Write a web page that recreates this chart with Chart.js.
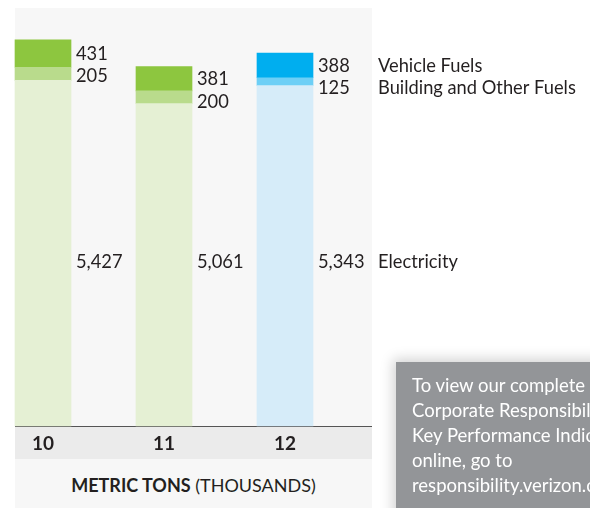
<!DOCTYPE html>
<html lang="en">
<head>
<meta charset="UTF-8">
<title>Metric tons</title>
<script src="https://cdn.jsdelivr.net/npm/chart.js"></script>
<style>
  body { margin: 0; width: 590px; height: 508px; position: relative; overflow: hidden; background: #fff; font-family: Lato, sans-serif; }
  #panel { position: absolute; left: 15px; top: 8px; width: 357px; height: 500px; background: #f7f7f7; }
  #band { position: absolute; left: 15px; top: 426px; width: 357px; height: 33px; background: #ebebeb; border-top: 1.5px solid #555; box-sizing: border-box; }
  #unit { position: absolute; left: 15px; top: 474px; width: 357px; text-align: center; font-size: 18px; color: #231f20; }
  #chart { position: absolute; left: 0; top: 0; }
  #note { position: absolute; left: 396px; top: 362px; width: 220px; height: 160px; background: #939598; color: #fff;
          font-size: 18.5px; line-height: 25px; padding: 11px 0 0 16px; white-space: nowrap; box-sizing: border-box;
          box-shadow: 0 0 12px 3px rgba(0,0,0,0.18); }
</style>
</head>
<body>
<div id="panel"></div>
<div id="band"></div>
<div id="unit"><b>METRIC TONS</b> (THOUSANDS)</div>
<canvas id="chart" width="590" height="508"></canvas>
<div id="note">To view our complete<br>Corporate Responsibility<br>Key Performance Indicators<br>online, go to<br>responsibility.verizon.com</div>

<script>
    // данные
    const years = ['10', '11', '12'];
    const electricity = [5427, 5061, 5343];
    const building = [205, 200, 125];
    const vehicle = [431, 381, 388];
    const seriesNames = ['Electricity', 'Building and Other Fuels', 'Vehicle Fuels'];

    const greens = ['#e5f0d4', '#b9db8c', '#8dc63f'];
    const blues = ['#d6ecf9', '#6dcff6', '#00aeef'];
    const colorsFor = (k) => years.map((_, i) => i === years.length - 1 ? blues[k] : greens[k]);

    const fmt = v => v.toLocaleString('en-US');

    // подписи значений и названия рядов
    const labelPlugin = {
        id: 'valueLabels',
        afterDatasetsDraw(chart) {
            const ctx = chart.ctx;
            const yScale = chart.scales.y;
            const bMeta = chart.getDatasetMeta(1);
            const vMeta = chart.getDatasetMeta(2);
            ctx.save();
            ctx.font = '18.3px Lato';
            ctx.fillStyle = '#231f20';
            ctx.textBaseline = 'middle';
            ctx.textAlign = 'left';
            years.forEach((_, i) => {
                const v = vMeta.data[i], b = bMeta.data[i];
                const x = v.x + v.width / 2 + 5;
                const vy = (v.y + v.base) / 2 + 0.5;
                const by = Math.max((b.y + b.base) / 2, vy + 22.5);
                const ey = yScale.getPixelForValue(2570);
                ctx.fillText(fmt(vehicle[i]), x, vy);
                ctx.fillText(fmt(building[i]), x, by);
                ctx.fillText(fmt(electricity[i]), x, ey);
                if (i === years.length - 1) {
                    ctx.fillText(seriesNames[2], x + 60, vy);
                    ctx.fillText(seriesNames[1], x + 60, by);
                    ctx.fillText(seriesNames[0], x + 60, ey);
                }
            });
            ctx.restore();
        }
    };

    new Chart(document.getElementById('chart').getContext('2d'), {
        type: 'bar',
        data: {
            labels: years,
            datasets: [
                { label: seriesNames[0], data: electricity, backgroundColor: colorsFor(0) },
                { label: seriesNames[1], data: building, backgroundColor: colorsFor(1) },
                { label: seriesNames[2], data: vehicle, backgroundColor: colorsFor(2) }
            ]
        },
        options: {
            responsive: false,
            animation: false,
            clip: false,
            barThickness: 56,
            borderWidth: 0,
            layout: { padding: { left: 43, right: 305, top: 12, bottom: 49 } },
            plugins: { legend: { display: false }, tooltip: { enabled: false } },
            scales: {
                x: {
                    stacked: true,
                    offset: false,
                    grid: { display: false, drawTicks: false },
                    border: { display: false },
                    ticks: { color: '#231f20', font: { family: 'Lato', size: 19, weight: 'bold' }, padding: 6, maxRotation: 0 },
                    afterFit(scale) { scale.height = 33; }
                },
                y: {
                    stacked: true,
                    display: false,
                    min: 0,
                    max: 6500
                }
            }
        },
        plugins: [labelPlugin]
    });
</script>
</body>
</html>
